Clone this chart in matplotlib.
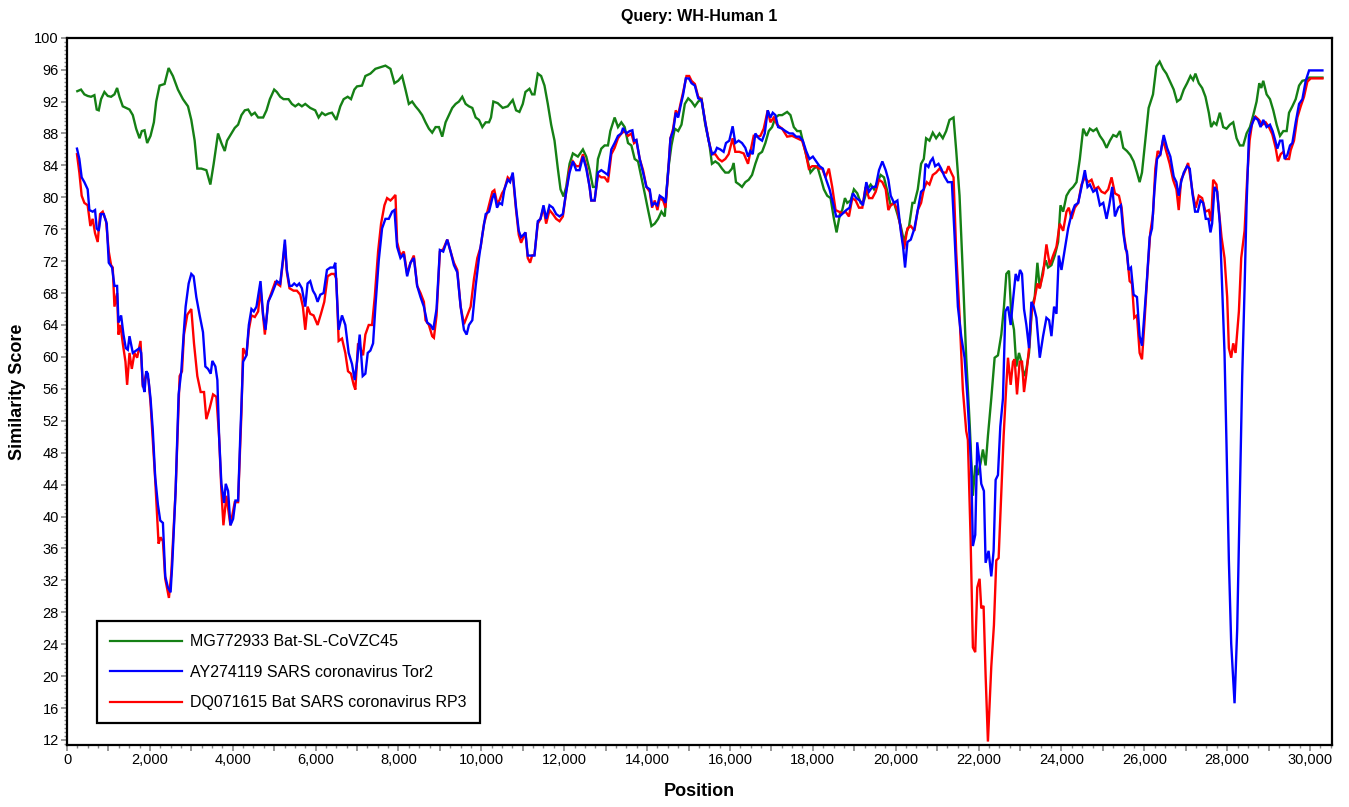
import matplotlib
matplotlib.use("Agg")
import matplotlib.pyplot as plt
from matplotlib.ticker import MultipleLocator, FuncFormatter

plt.rcParams['font.family'] = ['Liberation Sans', 'DejaVu Sans']

# ---------------- data ----------------
green_pos = [249, 338, 419, 499, 580, 661, 717, 766, 822, 903, 983, 1064, 1145, 1209, 1266, 1346, 1427, 1508, 1588, 1669,
             1750, 1806, 1871, 1935, 2016, 2097, 2153, 2234, 2355, 2452, 2556, 2677, 2798, 2920, 3000, 3081, 3145, 3242, 3363, 3460,
             3540, 3645, 3726, 3807, 3863, 3968, 4049, 4129, 4210, 4291, 4371, 4452, 4533, 4613, 4734, 4815, 4896, 5000,
             5064, 5145, 5225, 5346, 5427, 5508, 5588, 5669, 5750, 5870, 5991, 6072, 6153, 6233, 6314, 6395, 6500, 6596, 6677, 6774,
             6854, 6935, 6999, 7120, 7201, 7322, 7443, 7564, 7685, 7806, 7903, 7992, 8088, 8169, 8250, 8330, 8411, 8492, 8572, 8653,
             8734, 8814, 8895, 8976, 9056, 9137, 9217, 9298, 9379, 9459, 9540, 9621, 9701, 9782, 9863, 9943, 10024, 10105, 10185,
             10233, 10290, 10395, 10516, 10637, 10758, 10838, 10919, 11000, 11064, 11161, 11225, 11282, 11362, 11443, 11524, 11604,
             11685, 11766, 11846, 11911, 11983, 12048, 12129, 12209, 12330, 12451, 12532, 12613, 12693, 12758, 12814, 12895, 12975,
             13056, 13113, 13217, 13298, 13379, 13459, 13540, 13621, 13701, 13782, 13863, 13943, 14024, 14105, 14185, 14266, 14346,
             14427, 14508, 14588, 14669, 14750, 14830, 14911, 14992, 15072, 15153, 15234, 15314,
             15404, 15500, 15565, 15646, 15726, 15807, 15887, 15968, 16049, 16089, 16145, 16226, 16291, 16371, 16452, 16533, 16613,
             16694, 16775, 16855, 16936, 17017, 17097, 17178, 17259, 17380, 17460, 17541, 17622, 17702, 17783, 17864, 17944, 18025,
             18106, 18186, 18267, 18347, 18428, 18509, 18573, 18654, 18710, 18775, 18831, 18912, 18992, 19073, 19154, 19234, 19315,
             19396, 19476, 19557, 19638, 19718, 19799, 19880, 19960, 20041, 20122, 20202, 20259, 20323, 20404,
             20452, 20533, 20613, 20678, 20734, 20815, 20895, 20976, 21057, 21137, 21218, 21299, 21396, 21460, 21541, 21621, 21702,
             21783, 21863, 21920, 21984, 22049, 22105, 22170, 22226, 22307, 22388, 22468, 22549, 22613, 22670, 22734, 22791, 22855,
             22912, 22976, 23033, 23089, 23154, 23218, 23291, 23355, 23420, 23477, 23557, 23622, 23678, 23759, 23839, 23920, 23977,
             24041, 24122, 24202, 24283, 24364, 24444, 24525, 24605, 24686, 24767, 24847, 24928, 25009, 25089, 25170, 25250, 25331,
             25412, 25492,
             25581, 25662, 25742, 25823, 25887, 25944, 26024, 26105, 26210, 26291, 26371, 26452, 26533, 26613, 26710, 26791, 26871,
             26952, 27033, 27113, 27178, 27234, 27315, 27396, 27476, 27557, 27613, 27678, 27742, 27823, 27904, 27984, 28065, 28146,
             28227, 28307, 28388, 28468, 28549, 28630, 28710, 28775, 28823, 28871, 28952, 29033, 29113, 29194, 29275, 29355, 29436,
             29493, 29573, 29654, 29735, 29815, 29896, 29977, 30299]
green_sim = [93.3, 93.5, 92.9, 92.7, 92.6, 92.8, 91.0, 90.9, 92.3, 93.2, 92.7, 92.6, 92.9, 93.7, 92.6, 91.4, 91.2, 91.0, 90.3, 88.6,
             87.4, 88.3, 88.4, 86.8, 87.7, 89.4, 92.0, 94.0, 94.2, 96.2, 95.2, 93.5, 92.3, 91.4, 89.7, 87.1, 83.6, 83.6, 83.4, 81.6,
             84.2, 88.0, 86.8, 85.8, 87.1, 88.0, 88.7, 89.1, 90.3, 90.9, 91.0, 90.3, 90.6, 90.0, 90.0, 90.9, 92.3, 93.5,
             93.2, 92.6, 92.3, 92.3, 91.7, 91.4, 91.7, 91.4, 91.7, 91.2, 90.9, 90.0, 90.6, 90.3, 90.5, 90.6, 89.7, 91.4, 92.3, 92.6,
             92.3, 93.5, 93.9, 94.0, 95.2, 95.5, 96.1, 96.3, 96.5, 96.1, 94.3, 94.6, 95.2, 93.5, 91.7, 92.0, 91.4, 90.9, 90.3, 89.4,
             88.6, 88.1, 88.8, 88.8, 87.6, 89.4, 90.3, 91.2, 91.7, 92.0, 92.6, 91.7, 91.4, 91.2, 90.0, 89.7, 88.8, 89.4, 89.4,
             90.0, 92.0, 91.8, 91.2, 91.4, 92.2, 90.9, 90.7, 91.7, 93.2, 93.6, 92.9, 92.9, 95.5, 95.2, 94.0, 91.7,
             89.1, 87.1, 83.6, 81.0, 80.1, 81.3, 84.2, 85.5, 85.1, 86.0, 85.1, 83.4, 81.3, 81.3, 84.8, 86.1, 86.5,
             86.5, 88.3, 90.0, 88.8, 89.4, 88.8, 86.8, 86.5, 84.8, 84.5, 82.5, 80.5, 78.4, 76.4, 76.7, 77.3, 78.2,
             77.6, 83.4, 86.5, 88.6, 88.3, 89.1, 91.7, 92.4, 92.0, 91.4, 92.0, 92.3,
             89.1, 86.8, 84.2, 84.5, 84.2, 83.6, 83.1, 83.1, 83.6, 84.3, 81.9, 81.6, 81.3, 81.9, 82.2, 82.8, 84.2,
             85.4, 85.7, 86.8, 88.3, 88.8, 90.0, 90.3, 90.3, 90.7, 90.3, 88.8, 88.3, 88.3, 86.5, 84.8, 83.1, 83.6,
             83.9, 82.5, 81.0, 80.2, 79.9, 77.3, 75.6, 77.9, 78.4, 79.9, 79.3, 79.6, 81.0, 80.5, 79.3, 79.6, 81.0,
             81.6, 81.0, 81.9, 82.8, 82.5, 80.7, 79.0, 79.3, 77.9, 76.4, 74.4, 75.6, 76.4, 79.3,
             79.3, 81.0, 84.2, 84.8, 87.4, 87.1, 88.1, 87.4, 88.0, 87.4, 88.3, 89.7, 90.0, 85.9, 80.2, 70.4, 59.9,
             51.9, 42.6, 46.4, 45.2, 46.7, 48.4, 46.4, 50.1, 54.8, 59.9, 60.2, 62.8, 66.3, 70.4, 70.8, 65.2, 63.4,
             58.8, 60.5, 59.4, 57.6, 58.5, 60.5, 66.3, 67.5, 71.8, 68.6, 70.9, 72.1, 71.2, 71.5, 72.7, 74.4, 79.0,
             78.2, 80.2, 80.9, 81.3, 81.9, 84.8, 88.6, 87.7, 88.6, 88.3, 88.6, 87.7, 87.1, 86.2, 87.1, 87.8, 87.6,
             88.3, 86.2,
             85.8, 85.3, 84.5, 83.1, 81.9, 83.1, 87.1, 91.2, 92.9, 96.4, 97.0, 96.1, 95.5, 94.6, 93.5, 92.0, 92.3,
             93.5, 94.3, 95.2, 94.7, 95.5, 94.3, 93.7, 92.6, 90.6, 88.8, 89.4, 89.1, 90.6, 88.8, 88.6, 89.1, 89.4,
             87.4, 86.5, 86.5, 88.0, 88.8, 90.3, 92.0, 94.3, 93.7, 94.6, 92.9, 92.3, 90.9, 89.1, 87.7, 88.3, 88.3,
             90.6, 91.4, 92.3, 94.0, 94.6, 94.7, 95.0, 95.0]

blue_pos = [241, 298, 354, 419, 499, 540, 620, 677, 717, 766, 822, 887, 959, 1008, 1088, 1145, 1209, 1242, 1306, 1363,
            1419, 1467, 1508, 1588, 1669, 1750, 1790, 1830, 1871, 1911, 1951, 2016, 2072, 2129, 2194, 2250, 2315, 2371, 2436, 2500,
            2540, 2621, 2694, 2758, 2823, 2863, 2936, 3000, 3056, 3121, 3202, 3282, 3339, 3403, 3468, 3508, 3581, 3629, 3670, 3726,
            3791, 3831, 3888, 3944, 4009, 4065, 4129, 4186, 4250, 4331, 4388, 4452, 4509, 4573, 4670, 4734, 4791, 4855, 4936, 5017,
            5064, 5145, 5209, 5258, 5306, 5370, 5427, 5483, 5548, 5604, 5669, 5750, 5806, 5870, 5935, 5991, 6048, 6113, 6193, 6274,
            6355, 6435, 6475, 6556, 6637, 6717, 6798, 6879, 6943, 7000, 7064, 7137, 7201, 7258, 7322, 7387, 7443, 7524, 7604, 7685,
            7766, 7846, 7903, 7967, 8048, 8129, 8209, 8290, 8371, 8451, 8532, 8613, 8693, 8774, 8838, 8919, 8999, 9080, 9177, 9258,
            9338, 9419, 9500, 9580, 9645, 9701, 9782, 9863, 9943, 10024, 10105, 10185, 10266,
            10314, 10379, 10435, 10499, 10556, 10637, 10693, 10758, 10838, 10903, 10959, 11016, 11064, 11120, 11177, 11225, 11282,
            11362, 11427, 11500, 11564, 11645, 11725, 11806, 11887, 11967, 12048, 12129, 12209, 12290, 12370, 12451, 12532, 12613,
            12653, 12734, 12814, 12895, 12975, 13056, 13137, 13217, 13298, 13379, 13419, 13500, 13580, 13645, 13685, 13742, 13822,
            13903, 13984, 14064, 14120, 14185, 14250, 14306, 14387, 14443, 14508, 14564, 14629, 14693, 14750, 14806, 14871, 14935,
            15008, 15072, 15153, 15234, 15314,
            15404, 15484, 15565, 15646, 15686, 15767, 15847, 15904, 15984, 16065, 16129, 16210, 16291, 16371, 16436, 16492, 16549,
            16613, 16694, 16775, 16839, 16912, 16976, 17033, 17097, 17162, 17259, 17339, 17436, 17517, 17597, 17678, 17758, 17839,
            17920, 18001, 18081, 18162, 18242, 18323, 18404, 18484, 18565, 18646, 18726, 18807, 18888, 18968, 19049, 19130, 19210,
            19291, 19355, 19436, 19517, 19597, 19678, 19759, 19823, 19880, 19960, 20041, 20122, 20178, 20226, 20283, 20364,
            20452, 20533, 20613, 20678, 20718, 20791, 20839, 20895, 20952, 21033, 21097, 21178, 21258, 21355, 21420, 21501, 21581,
            21662, 21726, 21783, 21823, 21863, 21920, 21968, 22025, 22065, 22129, 22170, 22242, 22307, 22363, 22412, 22468, 22525,
            22589, 22646, 22710, 22775, 22839, 22896, 22952, 23000, 23049, 23097, 23154, 23218, 23275, 23331, 23396, 23477, 23557,
            23638, 23702, 23759, 23823, 23880, 23936, 24001, 24081, 24162, 24243, 24323, 24404, 24485, 24565, 24630, 24686, 24767,
            24847, 24928, 25009, 25089, 25154, 25226, 25291, 25371, 25436, 25492, 25549,
            25581, 25621, 25678, 25742, 25823, 25887, 25944, 26000, 26065, 26129, 26186, 26242, 26307, 26388, 26468, 26549, 26629,
            26710, 26775, 26831, 26888, 26952, 27033, 27097, 27162, 27226, 27291, 27355, 27420, 27484, 27549, 27597, 27637, 27694,
            27759, 27823, 27880, 27936, 27984, 28041, 28097, 28178, 28242, 28307, 28363, 28420, 28468, 28525, 28581, 28662, 28743,
            28807, 28871, 28952, 29033, 29097, 29162, 29210, 29275, 29331, 29388, 29452, 29517, 29573, 29654, 29735, 29815, 29896,
            29977, 30299]
blue_sim = [86.1, 84.8, 82.5, 81.9, 81.0, 78.4, 78.2, 78.4, 76.1, 75.8, 77.9, 77.9, 76.7, 71.8, 71.2, 68.9, 68.9, 64.3, 65.2, 62.8,
            61.1, 60.9, 62.6, 60.5, 60.8, 61.1, 60.5, 56.5, 55.6, 58.2, 57.9, 54.8, 50.7, 44.9, 41.5, 39.5, 39.2, 32.5, 31.1, 30.5,
            34.0, 43.2, 55.3, 58.2, 63.4, 66.3, 69.2, 70.4, 70.1, 67.5, 65.2, 63.1, 58.8, 58.5, 57.9, 59.5, 58.8, 57.1, 50.1, 44.1,
            41.7, 44.1, 43.2, 38.9, 39.7, 42.0, 42.0, 50.7, 59.4, 60.2, 64.0, 66.0, 65.7, 66.3, 69.5, 65.2, 63.4, 66.9, 67.8, 68.9,
            69.5, 69.2, 72.1, 74.7, 70.9, 68.9, 68.9, 69.2, 68.9, 69.2, 68.6, 66.3, 69.2, 69.5, 68.3, 67.8, 66.9, 67.8, 68.0, 70.9,
            71.2, 71.2, 71.8, 63.4, 65.2, 64.0, 60.5, 59.1, 57.1, 59.4, 62.8, 57.6, 57.9, 60.5, 60.8, 61.7, 66.3, 72.1, 76.1, 77.3,
            77.3, 78.2, 78.4, 73.8, 72.4, 72.9, 70.1, 71.8, 72.4, 68.9, 67.5, 66.3, 64.3, 64.0, 63.4, 66.0, 73.4, 73.2, 74.7, 73.2,
            71.5, 70.6, 66.3, 63.4, 62.8, 64.0, 64.6, 68.9, 72.4, 75.3, 77.9, 78.2, 79.9,
            80.5, 78.7, 79.3, 79.1, 81.0, 82.2, 81.9, 83.1, 78.7, 75.8, 75.0, 75.3, 75.6, 72.7, 72.7, 72.7, 72.7,
            77.0, 77.3, 79.0, 77.3, 79.0, 78.7, 77.9, 77.6, 77.9, 80.7, 83.1, 84.5, 83.4, 83.4, 85.1, 83.6, 81.3,
            79.6, 79.6, 83.1, 83.4, 83.1, 82.8, 86.0, 86.8, 87.7, 88.0, 88.7, 88.0, 88.3, 88.4, 87.1, 87.2, 84.8,
            83.1, 81.3, 81.0, 79.0, 79.3, 79.0, 80.2, 79.9, 79.3, 83.1, 87.4, 88.3, 90.6, 90.0, 91.4, 92.9, 94.9,
            94.9, 94.3, 94.0, 92.4, 92.2,
            89.4, 87.1, 85.4, 85.7, 86.2, 86.0, 85.7, 86.8, 87.1, 88.9, 86.8, 87.1, 86.8, 86.2, 85.1, 85.8, 85.4,
            88.0, 87.4, 87.1, 88.0, 90.9, 90.0, 90.6, 90.3, 88.8, 88.6, 88.3, 88.0, 88.0, 87.6, 87.6, 87.1, 85.8,
            84.8, 85.1, 84.5, 83.9, 83.6, 82.2, 81.0, 79.3, 77.6, 77.6, 78.0, 78.4, 78.7, 80.5, 79.9, 79.6, 79.0,
            81.9, 80.7, 81.3, 81.3, 83.4, 84.5, 83.4, 82.2, 80.2, 79.3, 79.6, 75.8, 73.8, 71.2, 74.4, 74.7,
            76.1, 78.4, 80.7, 81.0, 84.2, 83.8, 84.5, 84.9, 83.9, 84.2, 83.6, 82.6, 81.9, 81.9, 75.3, 66.3, 62.6,
            59.9, 55.3, 50.1, 46.1, 36.3, 37.7, 49.3, 46.7, 44.1, 43.2, 34.2, 35.7, 32.5, 35.7, 44.6, 45.2, 51.3,
            54.8, 65.7, 66.3, 64.0, 67.5, 70.4, 69.5, 70.9, 70.4, 66.0, 64.0, 61.1, 66.9, 66.3, 64.9, 59.9, 62.6,
            64.9, 64.6, 62.6, 66.3, 65.4, 72.7, 70.9, 73.5, 76.1, 77.9, 79.0, 79.3, 81.3, 83.4, 81.3, 81.6, 80.7,
            81.0, 79.0, 79.3, 77.3, 79.0, 81.3, 77.6, 78.7, 79.0, 75.6, 73.5,
            73.2, 70.9, 71.2, 67.8, 67.5, 62.6, 61.4, 65.2, 69.8, 75.0, 76.1, 80.7, 84.8, 85.4, 87.8, 86.2, 85.1,
            82.6, 81.9, 80.2, 81.9, 83.1, 83.9, 83.6, 80.5, 78.2, 78.2, 79.6, 79.3, 77.3, 77.3, 75.6, 76.7, 81.3,
            80.7, 76.7, 68.6, 60.5, 49.0, 34.5, 24.1, 16.6, 25.9, 43.2, 57.6, 68.6, 79.0, 87.7, 88.9, 90.0, 89.7,
            88.8, 89.7, 88.8, 89.1, 88.3, 87.1, 86.1, 87.1, 87.1, 84.8, 85.3, 86.5, 86.8, 89.4, 91.7, 92.3, 94.6,
            95.9, 95.9]

red_pos = [241, 298, 354, 419, 499, 564, 620, 677, 741, 798, 862, 943, 1008, 1064, 1104, 1145, 1209, 1242, 1290, 1346,
           1411, 1451, 1508, 1564, 1629, 1693, 1774, 1830, 1911, 1968, 2016, 2129, 2210, 2258, 2315, 2371, 2460, 2516, 2621, 2718,
           2775, 2823, 2904, 3000, 3065, 3145, 3226, 3307, 3363, 3444, 3525, 3605, 3670, 3726, 3775, 3847, 3944, 4049, 4129, 4210,
           4250, 4331, 4388, 4452, 4533, 4613, 4670, 4775, 4855, 4952, 5033,
           5064, 5145, 5209, 5258, 5306, 5370, 5467, 5548, 5629, 5693, 5750, 5806, 5870, 5951, 6048, 6129, 6209, 6290, 6379, 6451,
           6500, 6556, 6637, 6717, 6782, 6854, 6919, 6959, 7024, 7080, 7145, 7201, 7282, 7363, 7427, 7508, 7580, 7661, 7725, 7806,
           7863, 7927, 7967, 8048, 8129, 8209, 8290, 8371, 8451, 8532, 8613, 8653, 8734, 8814, 8855, 8919, 8999, 9080, 9177, 9258,
           9338, 9419, 9500, 9580, 9661, 9742, 9823, 9903, 9984, 10064, 10145, 10266,
           10314, 10379, 10435, 10499, 10556, 10637, 10693, 10758, 10838, 10903, 10959, 11016, 11064, 11120, 11177, 11225, 11282,
           11362, 11427, 11500, 11564, 11645, 11725, 11806, 11887, 11967, 12048, 12129, 12209, 12290, 12370, 12451, 12532, 12613,
           12653, 12734, 12814, 12895, 12975, 13056, 13137, 13217, 13298, 13379, 13459, 13540, 13621, 13685, 13742, 13822, 13903,
           13984, 14064, 14120, 14185, 14250, 14306, 14387, 14443, 14508, 14564, 14629, 14693, 14750, 14806, 14871, 14951, 15016,
           15072, 15153, 15234, 15314,
           15404, 15500, 15565, 15646, 15726, 15807, 15887, 15968, 16065, 16129, 16226, 16331, 16436, 16492, 16573, 16654, 16735,
           16815, 16912, 16976, 17057, 17138, 17259, 17380, 17500, 17622, 17742, 17823, 17904, 17985, 18065, 18146, 18226, 18307,
           18388, 18468, 18549, 18630, 18710, 18791, 18872, 18952, 19033, 19113, 19194, 19274, 19355, 19436, 19517, 19597, 19678,
           19759, 19823, 19880, 19960, 20041, 20122, 20202, 20283, 20364,
           20452, 20533, 20613, 20678, 20750, 20815, 20895, 20976, 21057, 21137, 21218, 21274, 21339, 21396, 21460, 21541, 21621,
           21702, 21742, 21807, 21863, 21920, 21968, 22025, 22065, 22121, 22170, 22226, 22307, 22371, 22428, 22484, 22549, 22605,
           22670, 22710, 22775, 22831, 22871, 22928, 22992, 23049, 23097, 23154, 23218, 23275, 23339, 23420, 23477, 23557, 23638,
           23718, 23799, 23880, 23960, 24041, 24122, 24178, 24243, 24323, 24404, 24485, 24565, 24646, 24727, 24807, 24888, 24968,
           25049, 25130, 25210, 25291, 25388, 25452, 25517,
           25581, 25646, 25702, 25758, 25823, 25887, 25944, 26000, 26081, 26145, 26210, 26266, 26323, 26388, 26452, 26533, 26613,
           26694, 26775, 26831, 26888, 26968, 27057, 27113, 27178, 27242, 27315, 27396, 27476, 27557, 27613, 27662, 27742, 27799,
           27864, 27936, 28000, 28041, 28097, 28146, 28202, 28283, 28339, 28420, 28484, 28541, 28605, 28686, 28767, 28847, 28928,
           29008, 29089, 29170, 29226, 29291, 29355, 29412, 29493, 29533, 29613, 29694, 29775, 29855, 29936, 30017, 30299]
red_sim = [85.4, 83.1, 80.2, 79.3, 79.0, 76.4, 77.3, 75.5, 74.4, 77.9, 78.2, 77.0, 73.2, 71.5, 71.2, 66.3, 68.0, 62.8, 64.0, 61.7,
           59.4, 56.5, 60.5, 58.5, 60.5, 59.9, 62.0, 56.2, 57.9, 57.1, 54.2, 44.6, 36.6, 37.4, 36.9, 32.2, 29.8, 32.8, 43.2, 57.6,
           58.2, 62.8, 65.3, 66.0, 61.7, 57.6, 55.6, 55.6, 52.2, 53.6, 55.3, 55.0, 50.1, 43.2, 38.9, 42.6, 38.9, 41.8, 41.8, 53.0,
           61.1, 60.2, 63.4, 65.2, 65.0, 65.7, 68.6, 62.8, 66.9, 68.3, 69.5,
           69.2, 68.9, 71.8, 74.1, 70.6, 68.6, 68.3, 68.3, 67.8, 66.3, 63.4, 66.3, 65.4, 65.2, 64.0, 65.4, 66.9, 70.1, 70.4, 70.4,
           69.8, 62.0, 62.3, 60.5, 58.2, 57.9, 56.5, 55.9, 61.7, 61.1, 60.2, 62.8, 64.0, 64.0, 67.5, 73.2, 76.7, 79.0, 79.9, 79.6,
           79.9, 80.3, 74.4, 72.7, 73.2, 70.4, 71.8, 72.7, 68.9, 68.0, 66.9, 64.6, 64.0, 62.6, 62.4, 65.2, 73.2, 73.5, 74.7, 73.2,
           71.8, 70.9, 66.3, 64.1, 65.2, 66.3, 69.8, 72.4, 73.8, 76.7, 78.2, 80.7,
           80.9, 79.3, 79.6, 80.5, 81.0, 82.5, 82.2, 82.8, 78.4, 75.3, 74.3, 75.0, 75.6, 72.4, 71.8, 72.7, 72.8,
           76.7, 77.3, 78.7, 76.7, 78.4, 77.9, 77.3, 77.0, 77.6, 80.7, 83.6, 84.5, 83.9, 83.9, 85.4, 83.9, 81.3,
           79.6, 79.6, 82.8, 82.5, 82.5, 81.9, 85.4, 86.2, 87.4, 88.0, 88.3, 87.7, 88.0, 86.8, 87.1, 84.8, 83.4,
           81.3, 80.7, 78.7, 79.6, 78.4, 79.9, 79.6, 78.7, 83.1, 87.4, 88.6, 90.9, 90.3, 91.7, 93.2, 95.2, 95.2,
           94.6, 94.2, 92.6, 92.3,
           89.4, 86.8, 85.4, 85.4, 84.8, 84.5, 84.8, 85.4, 87.4, 85.7, 85.7, 85.5, 84.2, 85.7, 87.7, 87.6, 87.7,
           88.6, 90.9, 89.4, 90.0, 89.1, 88.6, 87.6, 87.7, 87.4, 87.1, 85.7, 83.6, 83.9, 83.9, 83.6, 83.6, 82.5,
           83.6, 81.3, 78.4, 78.2, 78.0, 78.2, 77.6, 79.9, 79.6, 78.7, 78.7, 81.3, 79.9, 79.9, 80.7, 82.2, 81.9,
           81.0, 78.4, 79.0, 79.3, 78.4, 76.1, 73.5, 76.1, 76.4,
           75.8, 78.4, 79.3, 81.0, 81.9, 81.6, 82.8, 83.1, 83.6, 83.1, 83.1, 83.9, 83.1, 82.5, 73.2, 65.2, 55.9,
           50.7, 49.6, 37.4, 23.6, 23.0, 31.1, 32.2, 28.5, 28.8, 20.1, 11.8, 21.2, 26.4, 34.5, 34.8, 43.2, 50.1,
           56.5, 59.9, 56.5, 59.4, 59.7, 55.3, 59.4, 59.4, 55.6, 57.9, 61.1, 65.4, 66.9, 69.2, 68.6, 70.4, 74.1,
           71.5, 72.7, 73.8, 76.7, 75.8, 78.2, 78.7, 77.3, 78.7, 79.3, 81.6, 82.5, 81.9, 82.2, 81.0, 81.3, 80.7,
           80.5, 81.0, 82.5, 80.5, 80.2, 78.7, 75.0,
           72.9, 69.5, 69.2, 64.9, 65.2, 60.5, 59.7, 64.0, 70.9, 75.6, 77.9, 83.6, 85.8, 85.4, 87.2, 85.7, 84.2,
           82.2, 81.0, 78.4, 82.2, 83.1, 84.3, 82.5, 80.2, 78.7, 80.2, 79.9, 78.2, 78.4, 77.0, 82.2, 81.6, 78.4,
           75.0, 72.4, 67.5, 61.1, 59.9, 61.7, 60.5, 65.7, 72.4, 75.8, 82.5, 87.1, 89.4, 90.1, 89.7, 89.1, 89.4,
           88.8, 87.9, 86.2, 84.5, 85.4, 85.7, 84.8, 84.8, 85.9, 87.1, 90.0, 91.4, 92.6, 94.5, 94.9, 94.9]

series_labels = ["MG772933 Bat-SL-CoVZC45",
                 "AY274119 SARS coronavirus Tor2",
                 "DQ071615 Bat SARS coronavirus RP3"]
title_text = "Query: WH-Human 1"
x_label = "Position"
y_label = "Similarity Score"

# ---------------- figure ----------------
W, H = 1349, 807
fig = plt.figure(figsize=(W / 100, H / 100), dpi=100)
ax_l, ax_r, ax_t, ax_b = 67, 1332, 37.7, 745
ax = fig.add_axes([ax_l / W, 1 - ax_b / H, (ax_r - ax_l) / W, (ax_b - ax_t) / H])

lw = 1.7
ax.plot(green_pos, green_sim, color='#158015', lw=lw, label=series_labels[0], solid_joinstyle='miter')
ax.plot(red_pos, red_sim, color='#ff0000', lw=lw, label=series_labels[2], solid_joinstyle='miter')
ax.plot(blue_pos, blue_sim, color='#0000ff', lw=lw, label=series_labels[1], solid_joinstyle='miter')

ax.set_xlim(0, 30530)
ax.set_ylim(11.37, 100)

ax.xaxis.set_major_locator(MultipleLocator(1000))
ax.xaxis.set_minor_locator(MultipleLocator(250))
ax.xaxis.set_major_formatter(FuncFormatter(lambda v, p: f"{int(round(v)):,}" if int(round(v)) % 2000 == 0 else ""))
ax.yaxis.set_major_locator(MultipleLocator(4))
ax.yaxis.set_minor_locator(MultipleLocator(0.5))
ax.yaxis.set_major_formatter(FuncFormatter(lambda v, p: f"{int(round(v))}"))

ax.tick_params(axis='both', which='major', direction='out', length=4, width=1.2, color='#888888',
               labelsize=10.5, labelcolor='black', pad=2)
ax.tick_params(axis='both', which='minor', direction='out', length=2.5, width=1.0, color='#888888')
for s in ax.spines.values():
    s.set_linewidth(1.6)
    s.set_color('black')

ax.set_xlabel(x_label, fontsize=13, fontweight='bold')
ax.xaxis.set_label_coords((699.5 - ax_l) / (ax_r - ax_l), (ax_b - 792) / (ax_b - ax_t))
ax.xaxis.label.set_verticalalignment('center')
ax.set_ylabel(y_label, fontsize=13, fontweight='bold')
ax.yaxis.set_label_coords((18 - ax_l) / (ax_r - ax_l), 0.5)
ax.yaxis.label.set_verticalalignment('center')

fig.text((ax_l + ax_r) / 2 / W, 1 - 17 / H, title_text, ha='center', va='center', fontsize=11.5, fontweight='bold')

handles, labels = ax.get_legend_handles_labels()
order = [0, 2, 1]
leg = ax.legend([handles[i] for i in order], [labels[i] for i in order],
                loc='lower left', bbox_to_anchor=((97 - ax_l) / (ax_r - ax_l), (ax_b - 723) / (ax_b - ax_t)),
                borderaxespad=0, fontsize=11.5, handlelength=4.5, handletextpad=0.55, labelspacing=0.97,
                borderpad=0.8, fancybox=False, framealpha=1, edgecolor='black')
leg.get_frame().set_linewidth(1.6)
for line in leg.get_lines():
    line.set_linewidth(1.6)

fig.savefig("out.png", dpi=100)
